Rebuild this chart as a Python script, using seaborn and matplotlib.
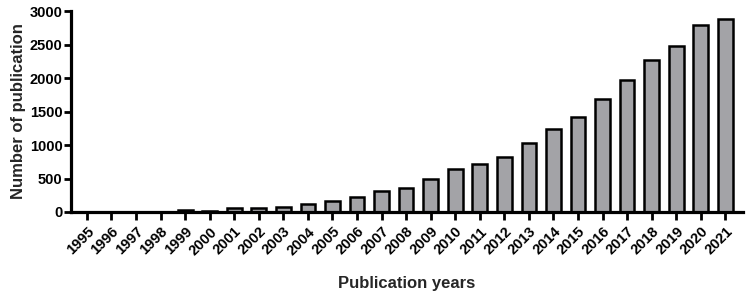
import matplotlib
matplotlib.use("Agg")
import matplotlib.pyplot as plt
import seaborn as sns
import pandas as pd

years = [str(y) for y in range(1995, 2022)]
counts = [1, 1, 1, 1, 25, 20, 55, 64, 75, 124, 164, 229, 318, 354, 488,
          637, 716, 821, 1025, 1244, 1423, 1682, 1970, 2274, 2473, 2797, 2886]

df = pd.DataFrame({"year": years, "count": counts})

sns.set_theme(style="ticks")
plt.rcParams['font.family'] = ['Liberation Sans', 'DejaVu Sans']
plt.rcParams['font.weight'] = 'bold'

fig = plt.figure(figsize=(7.47, 2.92), dpi=100)
ax = fig.add_axes([0.095, 0.274, 0.9, 0.688])

sns.barplot(data=df, x="year", y="count", color="#a3a3a7", saturation=1,
            edgecolor="black", linewidth=1.8, width=0.6, ax=ax)

ax.set_xlim(-0.65, 26.73)
ax.set_ylim(0, 3000)
ax.set_yticks([0, 500, 1000, 1500, 2000, 2500, 3000])
for s in ["top", "right"]:
    ax.spines[s].set_visible(False)
for s in ["left", "bottom"]:
    ax.spines[s].set_linewidth(2.3)
    ax.spines[s].set_color("black")
ax.tick_params(axis="y", length=5, width=2, labelsize=10.5, pad=1, colors="black")
ax.tick_params(axis="x", length=6, width=2, labelsize=10.5, pad=3, colors="black")
plt.setp(ax.get_xticklabels(), rotation=45, ha="right", rotation_mode="anchor", fontweight="bold")
plt.setp(ax.get_yticklabels(), fontweight="bold")
ax.set_xlabel("Publication years", fontsize=12, fontweight="bold", labelpad=13)
ax.set_ylabel("Number of publication", fontsize=12, fontweight="bold", labelpad=3)

fig.savefig("out.png", dpi=100)
